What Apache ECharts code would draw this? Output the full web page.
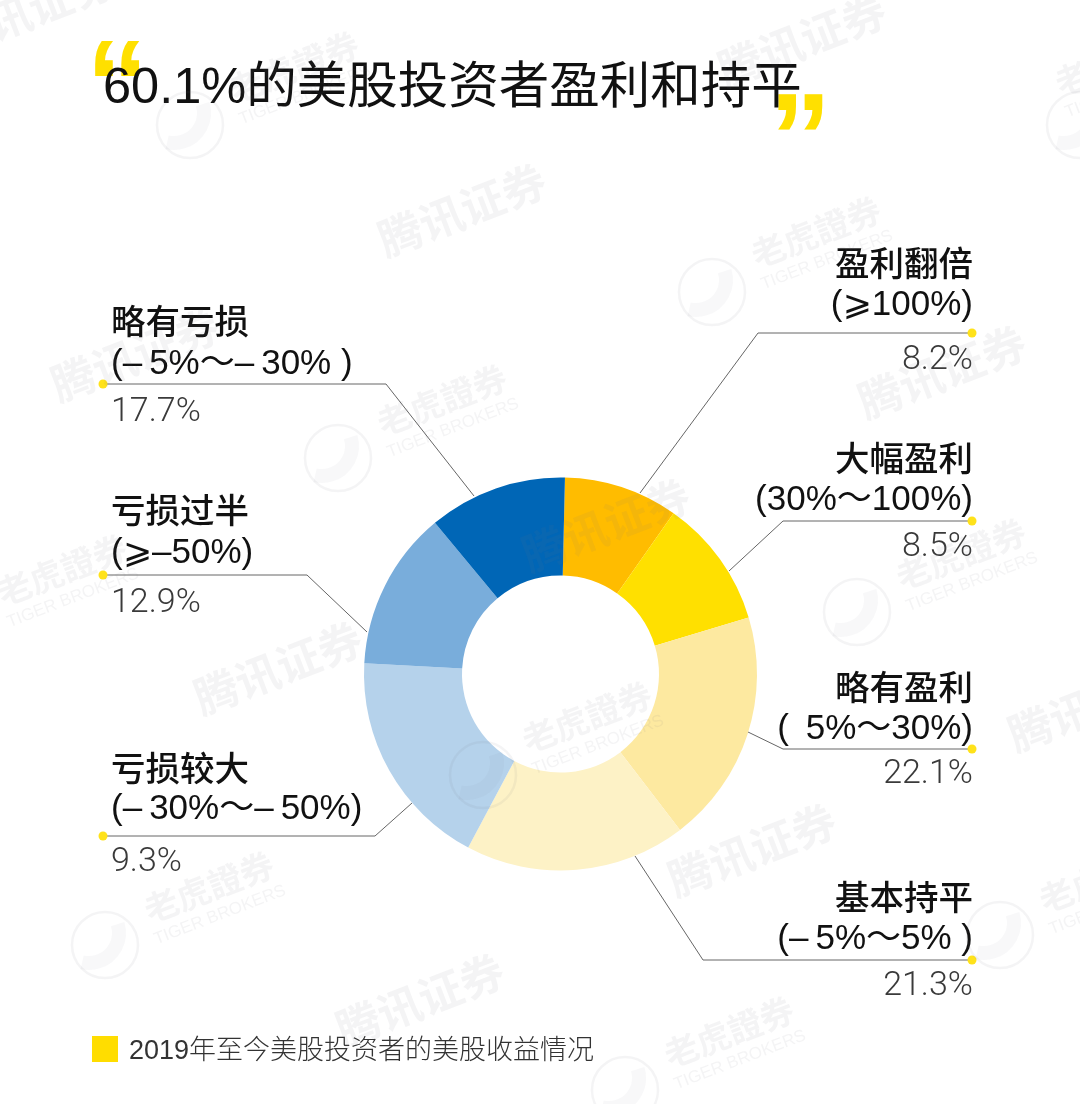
<!DOCTYPE html>
<html>
<head>
<meta charset="utf-8">
<title>60.1%的美股投资者盈利和持平</title>
<script src="https://cdn.jsdelivr.net/npm/echarts@6/dist/echarts.min.js"></script>
<style>
html,body{margin:0;padding:0;background:#fff}
#main{width:1080px;height:1104px}
</style>
</head>
<body>
<div id="main"></div>
<script>
// 分类和数值（从上方起顺时针）
const names = ['盈利翻倍','大幅盈利','略有盈利','基本持平','亏损较大','亏损过半','略有亏损'];
const ranges = ['(⩾100%)','(30%～100%)','(\u2009 5%～30%)','(–\u20095%～5% )','(–\u200930%～–\u200950%)','(⩾–50%)','(–\u20095%～–\u200930% )'];
// 标签上写的数
const shownValues = ['8.2%','8.5%','22.1%','21.3%','9.3%','12.9%','17.7%'];
// 图上扇区实际画的大小，和标签并不一致
const sliceValues = [9.4,10.6,19.25,18.2,18.1,13.1,11.4];
const colors = ['#ffbc00','#ffe000','#fde9a0','#fdf2c6','#b5d2eb','#79addb','#0066b6'];

const titleText = '60.1%的美股投资者盈利和持平';
const footText = '2019年至今美股投资者的美股收益情况';

// 引导线：扇区边 -> 折点 -> 圆点
const leaderLines = [
	[[640,493],[758,333],[972,333]],
	[[729,571],[783,521],[972,521]],
	[[748,732],[783,749],[972,749]],
	[[635,856],[703,960],[972,960]],
	[[412,803],[375,836],[103,836]],
	[[367,632],[307,575],[103,575]],
	[[474,496],[386,384],[103,384]]
];
// 文字块：名称中线y，名称到范围的距离，范围到数值的距离
const textRows = [
	[263,39,55],
	[458,39,47],
	[687,39,45],
	[897,39,47],
	[768,38,53],
	[510,40,50],
	[321,40,48]
];

// 水印
const tencentMarks = [[462,210],[942,372],[278,668],[606,525],[752,850],[420,1000],[135,355],[1092,705],[802,40],[30,10]];
const tigerMarks = [[816,232],[442,400],[961,554],[587,717],[209,887],[729,1032],[62,570],[294,67],[1104,877],[1120,60]];
const logoMarks = [[712,292],[338,458],[857,612],[483,775],[105,945],[625,1090],[190,125],[1000,935],[1080,125]];

const latinCjk = '"Liberation Sans","Noto Sans CJK SC","DejaVu Sans"';
const markFill = 'rgba(110,110,130,0.08)';
const rot = 21 * Math.PI / 180;

function richFor(i){
	let row = textRows[i];
	return {
		n:{fontSize:34.5,fontWeight:500,color:'#111',lineHeight:row[1],fontFamily:latinCjk},
		r:{fontSize:35,color:'#111',lineHeight:row[1],fontFamily:latinCjk},
		v:{fontSize:34,fontWeight:300,color:'#3a3a3a',lineHeight:(row[2]-row[1]/2)*2,fontFamily:'Roboto,"Liberation Sans"'}
	};
}

let graphics = [];
tencentMarks.forEach(p=>{
	graphics.push({type:'text',x:p[0],y:p[1],rotation:rot,z:10,silent:true,
		style:{text:'腾讯证券',fill:markFill,font:'bold 44px "Noto Sans CJK SC"',align:'center',verticalAlign:'middle'}});
});
tigerMarks.forEach(p=>{
	graphics.push({type:'text',x:p[0],y:p[1],rotation:rot,z:10,silent:true,
		style:{text:'老虎證券',fill:markFill,font:'bold 34px "Noto Sans CJK TC"',align:'center',verticalAlign:'middle'}});
	graphics.push({type:'text',x:p[0]+11,y:p[1]+28,rotation:rot,z:10,silent:true,
		style:{text:'TIGER BROKERS',fill:markFill,font:'17px "Liberation Sans"',align:'center',verticalAlign:'middle'}});
});
logoMarks.forEach(p=>{
	graphics.push({type:'circle',z:10,silent:true,shape:{cx:p[0],cy:p[1],r:33},
		style:{fill:'none',stroke:markFill,lineWidth:2.5}});
	graphics.push({type:'arc',z:10,silent:true,shape:{cx:p[0]-16,cy:p[1]-12,r:30,startAngle:-0.3,endAngle:1.8},
		style:{fill:'none',stroke:'rgba(110,110,130,0.05)',lineWidth:14}});
});
// 引号
graphics.push({type:'text',x:86,y:30,z:1,silent:true,
	style:{text:'“',fill:'#ffe000',font:'bold 125px "Liberation Sans"'}});
graphics.push({type:'text',x:769,y:83,z:1,silent:true,
	style:{text:'”',fill:'#ffe000',font:'bold 125px "Liberation Sans"'}});
// 圆点
leaderLines.forEach(l=>{
	graphics.push({type:'circle',z:5,silent:true,shape:{cx:l[2][0],cy:l[2][1],r:4.5},style:{fill:'#ffe21a'}});
});
// 底部方块
graphics.push({type:'rect',z:5,silent:true,shape:{x:92,y:1036,width:26,height:26},style:{fill:'#ffdd00'}});

let myChart = echarts.init(document.getElementById('main'));
myChart.setOption({
	animation:false,
	backgroundColor:'#fff',
	title:[
		{text:titleText,left:98,top:59,textStyle:{fontSize:50.5,fontWeight:'normal',color:'#111',fontFamily:latinCjk}},
		{text:footText,left:124,top:1033,textStyle:{fontSize:27,fontWeight:300,color:'#333',fontFamily:latinCjk}}
	],
	graphic:graphics,
	series:[{
		type:'pie',
		center:[560.5,674],
		radius:[98.5,196.5],
		startAngle:88.7,
		avoidLabelOverlap:false,
		data:names.map((n,i)=>({
			name:n,
			value:sliceValues[i],
			itemStyle:{color:colors[i]},
			label:{
				formatter:'{n|'+n+'}\n{r|'+ranges[i]+'}\n{v|'+shownValues[i]+'}',
				rich:richFor(i)
			}
		})),
		label:{show:true,position:'outside'},
		labelLine:{show:true,lineStyle:{color:'#666',width:1}},
		labelLayout:function(p){
			let i = p.dataIndex;
			let l = leaderLines[i];
			let isRight = l[2][0] > 560;
			return {
				x:isRight ? 973 : 111,
				y:textRows[i][0]-textRows[i][1]/2+3,
				align:isRight ? 'right' : 'left',
				verticalAlign:'top',
				labelLinePoints:l
			};
		}
	}]
});
</script>
</body>
</html>
